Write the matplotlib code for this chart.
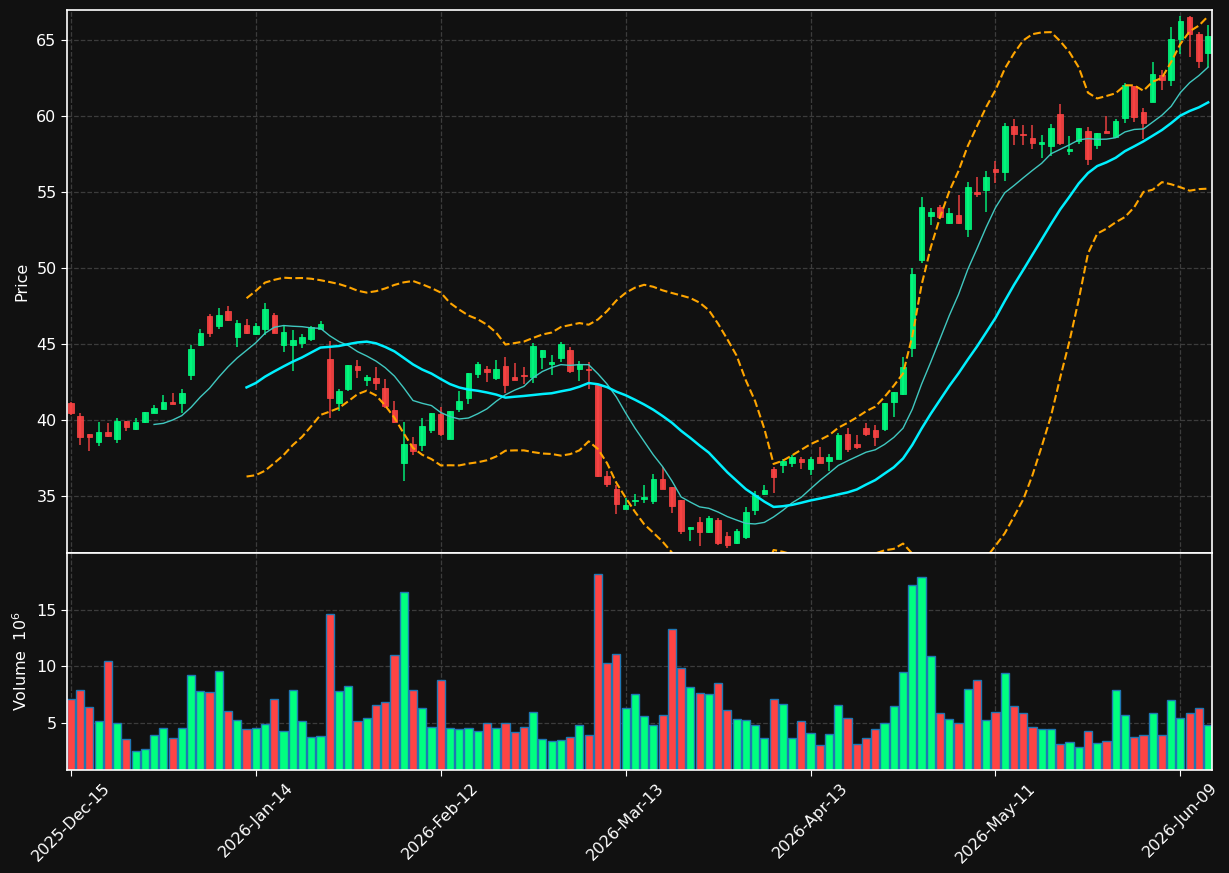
import numpy as np
import pandas as pd
import matplotlib
matplotlib.use('Agg')
from matplotlib import pyplot as plt

# OHLC, one entry per trading day
opens = [41.10, 40.26, 39.08, 38.57, 39.19, 38.77, 39.93, 39.43, 39.89, 40.48,
         40.75, 41.18, 41.14, 42.96, 44.93, 46.84, 46.21, 47.17, 45.48, 46.25,
         45.68, 46.01, 46.91, 44.96, 44.93, 45.09, 45.35, 45.99, 43.99, 41.14,
         42.02, 43.55, 42.63, 42.76, 42.11, 40.66, 37.20, 38.42, 38.38, 39.36,
         40.40, 38.77, 40.72, 41.47, 43.05, 43.36, 42.76, 43.55, 42.83, 42.96,
         42.85, 44.17, 43.68, 44.10, 44.61, 43.38, 43.35, 42.30, 36.31, 35.46,
         34.17, 34.69, 34.82, 34.67, 36.12, 35.57, 34.74, 32.81, 33.27, 32.65,
         33.40, 32.35, 31.93, 32.32, 34.08, 35.13, 36.78, 37.04, 37.17, 37.43,
         36.80, 37.57, 37.32, 37.46, 39.06, 38.42, 39.45, 39.34, 39.43, 41.21,
         41.73, 44.76, 50.52, 53.44, 54.04, 52.96, 53.49, 52.59, 55.02, 55.15,
         56.51, 56.34, 59.34, 58.82, 58.55, 58.14, 58.05, 60.11, 57.72, 58.38,
         59.01, 58.11, 59.01, 58.60, 59.89, 62.00, 60.26, 60.94, 62.70, 62.33,
         65.09, 66.49, 65.37, 64.17]
highs = [41.20, 40.44, 39.08, 39.89, 39.82, 40.11, 39.93, 40.11, 40.50, 40.96,
         41.62, 41.75, 42.02, 44.93, 45.96, 46.95, 47.35, 47.48, 46.58, 46.64,
         46.36, 47.67, 47.02, 46.21, 45.92, 45.64, 46.18, 46.49, 45.22, 42.02,
         43.62, 43.95, 42.96, 43.47, 42.68, 41.25, 39.85, 38.88, 40.11, 40.44,
         40.83, 40.59, 41.89, 43.09, 43.82, 43.55, 43.95, 44.17, 43.73, 43.51,
         45.04, 44.61, 44.25, 45.15, 44.83, 43.88, 43.79, 42.37, 36.62, 35.72,
         34.89, 35.13, 35.70, 36.45, 36.93, 35.57, 34.74, 32.94, 33.60, 33.68,
         33.57, 32.65, 32.81, 34.25, 35.31, 35.72, 36.93, 37.41, 37.70, 37.59,
         37.59, 38.20, 37.74, 39.12, 39.45, 38.99, 39.80, 39.65, 41.12, 41.84,
         44.12, 49.98, 54.67, 53.93, 54.15, 53.93, 54.80, 55.68, 55.97, 56.36,
         57.04, 59.52, 59.78, 59.39, 59.41, 58.77, 59.47, 60.79, 58.66, 59.21,
         59.25, 58.88, 60.00, 59.80, 62.15, 62.00, 60.50, 63.53, 63.00, 65.83,
         66.54, 66.60, 65.50, 65.97]
lows = [40.35, 38.35, 37.98, 38.29, 38.90, 38.51, 39.30, 39.34, 39.78, 40.48,
        40.75, 41.05, 40.48, 42.63, 44.87, 45.44, 45.96, 46.53, 44.78, 45.64,
        45.59, 45.59, 45.70, 44.49, 43.25, 44.72, 45.18, 45.99, 40.11, 40.61,
        41.91, 42.74, 42.24, 41.95, 40.77, 39.82, 36.01, 37.68, 37.96, 39.12,
        38.95, 38.77, 40.50, 41.03, 42.74, 42.48, 42.63, 41.75, 42.65, 42.35,
        42.46, 43.33, 42.94, 43.79, 43.11, 42.59, 42.02, 36.23, 35.61, 33.79,
        34.17, 34.34, 34.56, 34.45, 35.48, 33.90, 32.48, 32.02, 31.73, 32.59,
        31.78, 31.56, 31.82, 32.17, 33.75, 35.07, 35.22, 36.49, 36.93, 36.80,
        36.36, 37.17, 36.64, 37.41, 37.87, 38.07, 38.95, 38.31, 39.25, 40.17,
        41.67, 44.17, 50.35, 52.81, 53.27, 52.89, 52.87, 52.02, 54.69, 53.71,
        55.57, 55.75, 58.07, 58.07, 57.81, 57.22, 57.39, 58.07, 57.46, 58.14,
        56.75, 57.81, 58.90, 58.60, 59.52, 59.58, 58.49, 60.94, 61.71, 62.00,
        64.08, 63.86, 63.14, 63.25]
closes = [40.44, 38.90, 38.86, 39.21, 38.97, 39.93, 39.56, 39.87, 40.50, 40.79,
          41.18, 41.07, 41.78, 44.67, 45.72, 45.74, 46.91, 46.60, 46.38, 45.74,
          46.18, 47.30, 45.74, 45.79, 45.26, 45.46, 46.10, 46.32, 41.47, 41.91,
          43.62, 43.29, 42.83, 42.46, 40.92, 39.89, 38.42, 37.98, 39.61, 40.44,
          39.08, 40.59, 41.25, 43.09, 43.69, 43.16, 43.36, 42.30, 42.65, 42.92,
          44.87, 44.61, 43.82, 45.00, 43.22, 43.66, 43.29, 36.34, 35.79, 34.47,
          34.39, 34.74, 34.96, 36.12, 35.48, 34.36, 32.70, 32.94, 32.65, 33.53,
          31.93, 31.75, 32.68, 33.95, 35.09, 35.39, 36.27, 37.30, 37.57, 37.26,
          37.43, 37.17, 37.57, 39.01, 38.11, 38.25, 39.10, 38.90, 41.12, 41.84,
          43.49, 49.61, 54.01, 53.66, 53.33, 53.60, 52.98, 55.33, 54.85, 55.97,
          56.34, 59.34, 58.79, 58.73, 58.25, 58.29, 59.21, 58.25, 57.81, 59.21,
          57.19, 58.88, 58.90, 59.67, 62.04, 59.93, 59.56, 62.74, 62.33, 65.07,
          66.25, 65.37, 63.58, 65.24]
# volume in millions
volumes = [7.12, 7.92, 6.41, 5.17, 10.48, 5.00, 3.58, 2.52, 2.70, 3.94,
           4.57, 3.67, 4.57, 9.25, 7.83, 7.74, 9.60, 6.06, 5.26, 4.47,
           4.57, 4.91, 7.12, 4.29, 7.92, 5.17, 3.76, 3.85, 14.64, 7.83,
           8.27, 5.17, 5.44, 6.59, 6.86, 11.00, 16.59, 7.92, 6.33, 4.64,
           8.80, 4.57, 4.47, 4.57, 4.29, 5.00, 4.57, 5.00, 4.20, 4.64,
           5.97, 3.58, 3.40, 3.49, 3.76, 4.82, 3.94, 18.18, 10.31, 11.10,
           6.33, 7.56, 5.62, 4.82, 5.70, 13.32, 9.87, 8.18, 7.65, 7.56,
           8.54, 6.15, 5.35, 5.26, 4.82, 3.67, 7.12, 6.68, 3.67, 5.17,
           4.11, 3.05, 4.02, 6.59, 5.44, 3.14, 3.67, 4.47, 5.00, 6.50,
           9.51, 17.21, 17.92, 10.93, 5.88, 5.35, 5.00, 8.01, 8.80, 5.26,
           5.97, 9.42, 6.50, 5.88, 4.64, 4.47, 4.47, 3.14, 3.32, 2.87,
           4.29, 3.23, 3.40, 7.92, 5.70, 3.76, 3.94, 5.88, 3.94, 7.03,
           5.44, 5.88, 6.33, 4.82]

# trading calendar (weekdays minus exchange holidays)
holidays = ['2025-12-25', '2026-01-01', '2026-01-19', '2026-02-16', '2026-04-03', '2026-05-25']
days = pd.bdate_range('2025-12-15', '2026-06-30')
days = days[~days.isin(pd.to_datetime(holidays))][:len(closes)]

df = pd.DataFrame({'Open': opens, 'High': highs, 'Low': lows, 'Close': closes,
                   'Volume': volumes}, index=days)
df['ma10'] = df['Close'].rolling(10).mean()
df['ma20'] = df['Close'].rolling(20).mean()
std20 = df['Close'].rolling(20).std(ddof=0)
df['bb_up'] = df['ma20'] + 2 * std20
df['bb_lo'] = df['ma20'] - 2 * std20

bg = '#111111'
up_col = '#00ff80'
down_col = '#ff4444'
plt.rcParams['font.family'] = ['DejaVu Sans']

fig = plt.figure(figsize=(12.29, 8.73), dpi=100, facecolor=bg)
ax = fig.add_axes([0.0545, 0.3666, 0.9317, 0.6220])
axv = fig.add_axes([0.0545, 0.118, 0.9317, 0.2486], sharex=ax)

x = np.arange(len(df))
is_up = (df['Close'] >= df['Open']).values
colors = np.where(is_up, up_col, down_col)

# candles
ax.vlines(x, df['Low'], df['High'], colors=colors, linewidth=1.1, alpha=0.9)
body_lo = np.minimum(df['Open'], df['Close'])
body_h = np.abs(df['Close'] - df['Open'])
ax.bar(x, body_h, bottom=body_lo, width=0.6, color=colors, edgecolor=colors,
       linewidth=0.6, alpha=0.9)

ax.plot(x, df['ma10'], color='#40c8c0', linewidth=1.0)
ax.plot(x, df['ma20'], color='#00f0ff', linewidth=1.8)
ax.plot(x, df['bb_up'], color='#ffa500', linewidth=1.5, linestyle='--')
ax.plot(x, df['bb_lo'], color='#ffa500', linewidth=1.5, linestyle='--')

# volume
axv.bar(x, df['Volume'], width=0.88, color=colors, edgecolor='#1f77b4', linewidth=1.0)

ax.set_xlim(-0.42, len(df) - 0.58)
ax.set_ylim(31.25, 66.97)
axv.set_ylim(0.84, 20.04)

for a in (ax, axv):
    a.set_facecolor(bg)
    a.grid(True, color='#3c3c3c', linestyle='--', linewidth=0.9)
    a.set_axisbelow(True)
    for s in a.spines.values():
        s.set_color('white')
        s.set_linewidth(1.2)
    a.tick_params(colors='white', labelsize=11.5, length=4)

ticks = x[::20]
axv.set_xticks(ticks)
axv.set_xticklabels([d.strftime('%Y-%b-%d') for d in df.index[::20]], rotation=45)
plt.setp(ax.get_xticklabels(), visible=False)
ax.set_yticks([35, 40, 45, 50, 55, 60, 65])
axv.set_yticks([5, 10, 15])

ax.set_ylabel('Price', color='white', fontsize=11.5)
axv.set_ylabel('Volume  $10^{6}$', color='white', fontsize=11.5)
ax.yaxis.set_label_coords(-0.033, 0.5)
axv.yaxis.set_label_coords(-0.032, 0.5)

fig.savefig('out.png', dpi=100, facecolor=bg)
